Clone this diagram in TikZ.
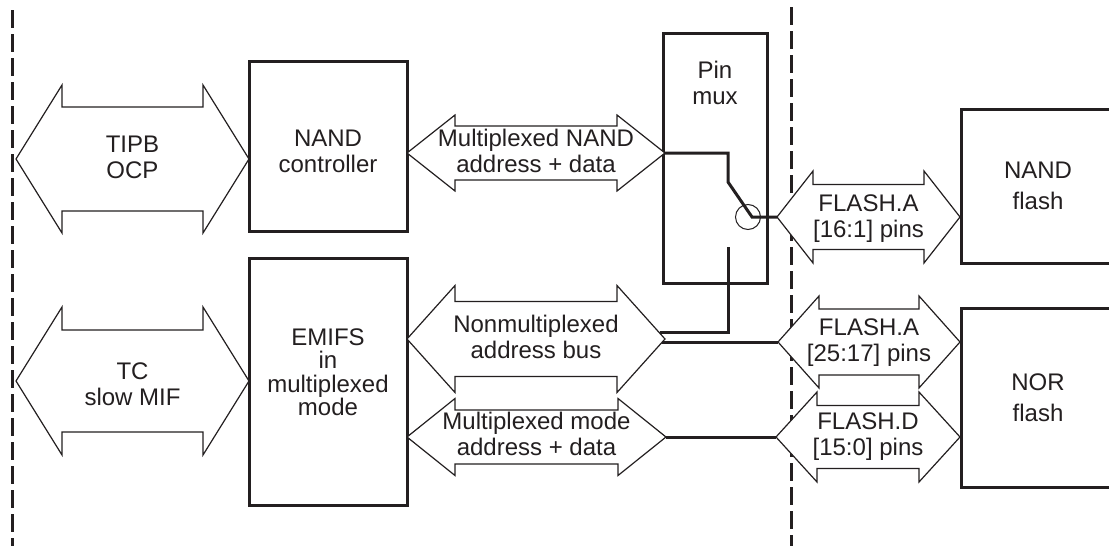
\documentclass[tikz,border=0pt]{standalone}
\usepackage{fontspec}
\setmainfont{Liberation Sans}
\definecolor{ink}{RGB}{35,31,32}

% Double-headed bus arrow: name, left tip x, right tip x, axis y,
% shaft half-height, head half-height, head length, label y, label
\newcommand\busarrow[9]{%
  \draw[busshape] (#2,#4) -- ++(#7,-#6) -- ++(0,#6-#5) -- (#3-#7,#4-#5)
    -- ++(0,#5-#6) -- (#3,#4) -- ++(-#7,#6) -- ++(0,#5-#6)
    -- (#2+#7,#4+#5) -- ++(0,#6-#5) -- cycle;
  \coordinate (#1-l) at (#2,#4);
  \coordinate (#1-r) at (#3,#4);
  \node[txt] (#1) at ({(#2+#3)/2},#8) {#9};
}

\begin{document}
\begin{tikzpicture}[x=1pt,y=-1pt,
  blockbox/.style={draw=ink, line width=3pt, fill=white, inner sep=0pt},
  busshape/.style={draw=ink, line width=1.2pt, fill=white, line join=miter},
  wire/.style={draw=ink, line width=3pt, line join=miter},
  divider/.style={draw=ink, line width=3pt, dash pattern=on 18pt off 6pt},
  txt/.style={text=ink, align=center, inner sep=0pt,
    font=\fontsize{24}{26}\selectfont},
]
\useasboundingbox (0,0) rectangle (1109,546);

% domain boundaries
\coordinate (divL-top) at (12,10);
\coordinate (divL-bot) at (12,546);
\coordinate (divR-top) at (791,7);
\coordinate (divR-bot) at (791,546);
\draw[divider] (divL-top) -- (divL-bot);
\draw[divider] (divR-top) -- (divR-bot);

% functional blocks
\node[blockbox, minimum width=158pt, minimum height=170pt] (nandctl) at (328,146) {};
\node[blockbox, minimum width=158pt, minimum height=247pt] (emifs) at (328,381.5) {};
\node[blockbox, minimum width=104pt, minimum height=250pt] (pinmux) at (715,158) {};
\node[blockbox, minimum width=159pt, minimum height=154pt] (nandflash) at (1040.5,186) {};
\node[blockbox, minimum width=159pt, minimum height=179pt] (norflash) at (1040.5,397.5) {};

% block labels
\node[txt] (nandctl-t) at (328,151) {NAND\\controller};
\node[txt, font=\fontsize{24}{23.5}\selectfont] (emifs-t) at (328,372) {EMIFS\\in\\multiplexed\\mode};
\node[txt] (pinmux-t) at (715,83) {Pin\\mux};
\node[txt, font=\fontsize{24}{31}\selectfont] (nandflash-t) at (1038,186) {NAND\\flash};
\node[txt, font=\fontsize{24}{31}\selectfont] (norflash-t) at (1038,398) {NOR\\flash};

% buses
\busarrow{tipb}{16}{249}{159}{52}{74}{46}{157}{TIPB\\OCP}
\busarrow{tc}{16}{249}{381}{51}{74}{46}{384}{TC\\slow MIF}
\busarrow{nandbus}{407}{665}{153}{27}{38}{48}{151}{Multiplexed NAND\\address + data}
\busarrow{nmbus}{407}{665}{339}{37.5}{53.5}{48}{337}{Nonmultiplexed\\address bus}
\busarrow{mmbus}{407}{666}{437}{27}{38.5}{48}{434}{Multiplexed mode\\address + data}
\busarrow{flashA}{777}{960}{217}{32.5}{46}{36}{219}{FLASH.A\\{[}16:1] pins}
\busarrow{flashAh}{778}{960}{342}{33}{46}{41}{343}{FLASH.A\\{[}25:17] pins}
\busarrow{flashD}{776}{960}{437}{31.5}{45}{41}{437}{FLASH.D\\{[}15:0] pins}

% pin multiplexer switch
\coordinate (sw-top) at (728,182);
\coordinate (sw-pivot) at (752,217);
\coordinate (sw-stub) at (728,247);
\coordinate (nmbus-ru) at (660,332);
\coordinate (nmbus-rd) at (662,342);
\draw[wire] (nandbus-r) -| (sw-top) -- (sw-pivot) -- (flashA-l);
\draw[wire] (sw-stub) |- (nmbus-ru);
\draw[wire] (nmbus-rd) -- (flashAh-l);
\draw[wire] (mmbus-r) -- (flashD-l);
\node[draw=ink, line width=1pt, circle, minimum size=25pt, inner sep=0pt] (pivot) at (748,217) {};
\end{tikzpicture}
\end{document}
